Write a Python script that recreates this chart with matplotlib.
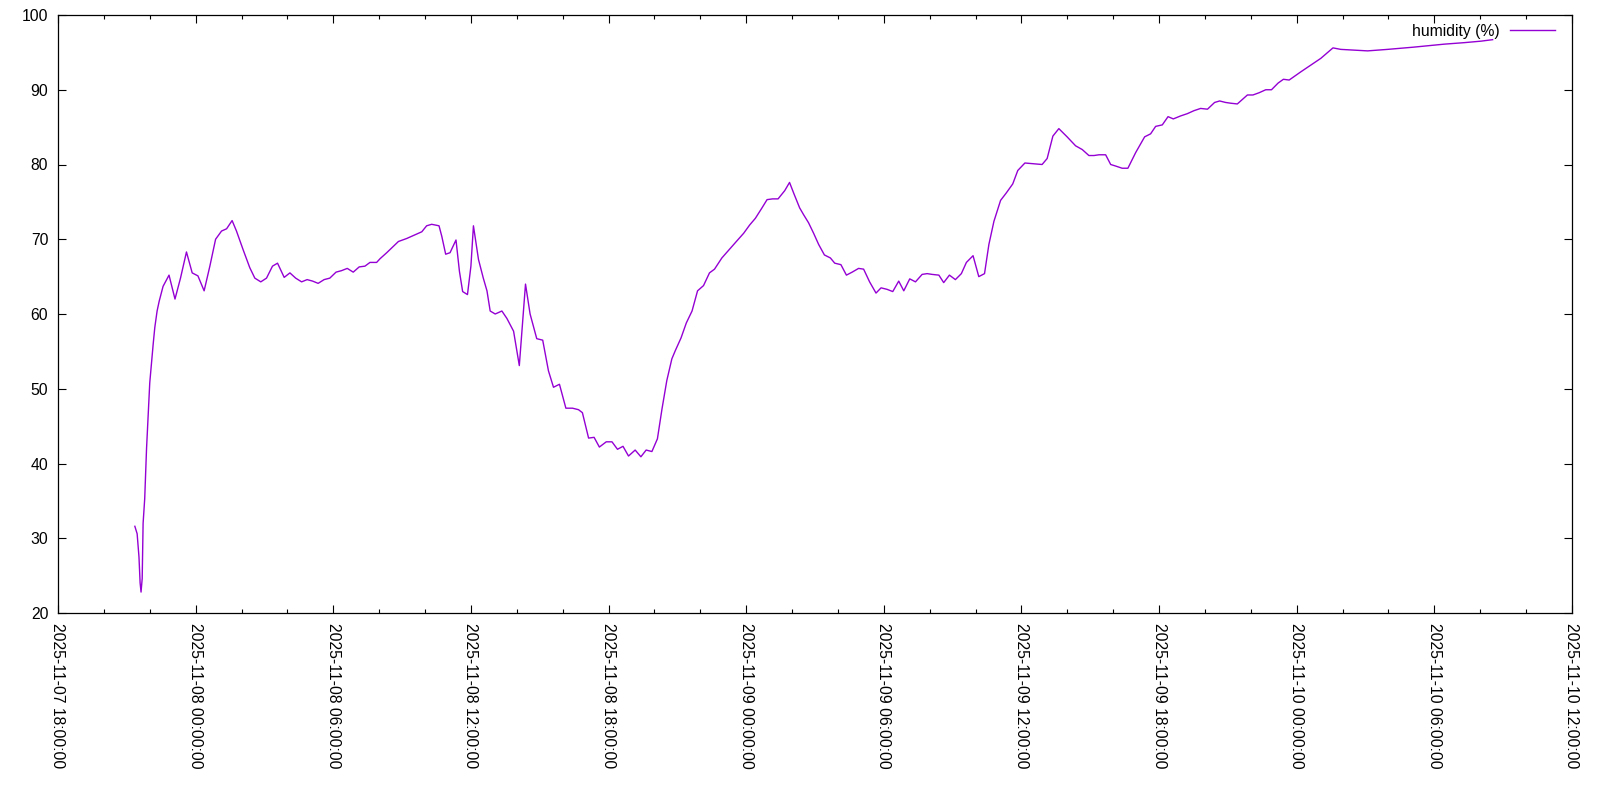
import matplotlib
matplotlib.use("Agg")
import matplotlib.pyplot as plt
import matplotlib.dates as mdates
import numpy as np

# hours after 2025-11-07 18:00 and humidity readings
start = np.datetime64("2025-11-07T18:00")
end = np.datetime64("2025-11-10T12:00")

hours = [
    3.35, 3.45, 3.53, 3.58, 3.62, 3.67, 3.71, 3.78, 3.86, 3.93,
    4.00, 4.07, 4.15, 4.22, 4.32, 4.41, 4.58, 4.84, 5.10, 5.34,
    5.60, 5.85, 6.10, 6.37, 6.62, 6.87, 7.13, 7.35, 7.59, 7.78,
    8.07, 8.36, 8.58, 8.84, 9.09, 9.35, 9.57, 9.86, 10.11, 10.36,
    10.62, 10.86, 11.10, 11.34, 11.60, 11.85, 12.12, 12.36, 12.61, 12.87,
    13.13, 13.38, 13.60, 13.89, 14.04, 14.33, 14.84, 15.20, 15.49, 15.86,
    16.07, 16.29, 16.61, 16.73, 16.90, 17.09, 17.35, 17.50, 17.64, 17.85,
    18.00, 18.11, 18.33, 18.54, 18.70, 18.84, 19.06, 19.35, 19.57, 19.86,
    20.11, 20.22, 20.38, 20.58, 20.87, 21.13, 21.38, 21.60, 21.86, 22.14,
    22.43, 22.69, 22.86, 23.13, 23.37, 23.60, 23.90, 24.15, 24.39, 24.63,
    24.87, 25.16, 25.41, 25.64, 25.89, 26.13, 26.33, 26.54, 26.76, 26.91,
    27.16, 27.39, 27.64, 27.88, 28.14, 28.40, 28.62, 28.94, 29.31, 29.60,
    29.89, 30.15, 30.40, 30.69, 30.91, 31.15, 31.39, 31.68, 31.89, 32.08,
    32.33, 32.50, 32.72, 32.94, 33.16, 33.41, 33.67, 33.86, 34.13, 34.37,
    34.62, 34.90, 35.12, 35.38, 35.66, 35.88, 36.14, 36.39, 36.65, 36.87,
    37.13, 37.38, 37.67, 37.89, 38.10, 38.40, 38.61, 38.86, 39.12, 39.38,
    39.60, 39.89, 40.14, 40.39, 40.58, 40.80, 41.09, 41.34, 41.62, 41.84,
    42.15, 42.54, 42.90, 43.12, 43.37, 43.63, 43.99, 44.36, 44.65, 44.94,
    45.16, 45.38, 45.67, 45.89, 46.10, 46.39, 46.64, 46.98, 47.37, 47.63,
    47.85, 48.14, 48.39, 48.62, 48.94, 49.23, 49.52, 49.81, 50.11, 50.42,
    50.64, 50.90, 51.12, 51.41, 51.85, 52.09, 52.36, 52.65, 52.90, 53.19,
    53.42, 53.67, 54.18, 55.05, 55.58, 55.92, 56.50, 57.09, 57.96, 59.10,
    60.43, 61.30, 62.03, 62.54,
]

humidity = [
    31.6, 30.6, 27.5, 24.0, 22.8, 24.6, 32.0, 35.3, 42.0, 46.4,
    50.8, 53.3, 56.0, 58.2, 60.4, 61.7, 63.7, 65.2, 62.0, 64.8,
    68.3, 65.5, 65.1, 63.1, 66.4, 70.0, 71.1, 71.4, 72.5, 71.1,
    68.6, 66.2, 64.8, 64.3, 64.8, 66.4, 66.8, 64.9, 65.5, 64.8,
    64.3, 64.6, 64.4, 64.1, 64.6, 64.8, 65.6, 65.8, 66.1, 65.6,
    66.3, 66.4, 66.9, 66.9, 67.4, 68.2, 69.7, 70.1, 70.5, 71.0,
    71.8, 72.0, 71.8, 70.4, 68.0, 68.2, 69.9, 65.7, 63.0, 62.6,
    66.4, 71.8, 67.3, 64.8, 63.1, 60.4, 60.0, 60.4, 59.4, 57.7,
    53.1, 57.5, 64.0, 60.0, 56.7, 56.5, 52.4, 50.2, 50.6, 47.4,
    47.4, 47.2, 46.8, 43.4, 43.5, 42.2, 42.9, 42.9, 41.9, 42.3,
    41.0, 41.8, 40.9, 41.8, 41.6, 43.3, 47.3, 51.1, 54.0, 55.1,
    56.8, 58.8, 60.4, 63.1, 63.8, 65.5, 66.0, 67.5, 68.8, 69.8,
    70.8, 71.9, 72.8, 74.2, 75.3, 75.4, 75.4, 76.5, 77.6, 76.1,
    74.2, 73.3, 72.2, 70.8, 69.3, 67.9, 67.5, 66.8, 66.6, 65.2,
    65.6, 66.1, 66.0, 64.3, 62.8, 63.5, 63.3, 63.0, 64.4, 63.1,
    64.7, 64.3, 65.3, 65.4, 65.3, 65.2, 64.2, 65.2, 64.6, 65.4,
    66.9, 67.8, 65.0, 65.4, 69.3, 72.4, 75.2, 76.2, 77.4, 79.2,
    80.2, 80.1, 80.0, 80.8, 83.8, 84.8, 83.7, 82.5, 82.0, 81.2,
    81.2, 81.3, 81.3, 80.0, 79.8, 79.5, 79.5, 81.6, 83.7, 84.1,
    85.1, 85.3, 86.4, 86.1, 86.5, 86.8, 87.2, 87.5, 87.4, 88.3,
    88.5, 88.3, 88.2, 88.1, 89.3, 89.3, 89.6, 90.0, 90.0, 90.9,
    91.4, 91.3, 92.4, 94.2, 95.6, 95.4, 95.3, 95.2, 95.4, 95.7,
    96.1, 96.3, 96.5, 96.7,
]

y_ticks = [20, 30, 40, 50, 60, 70, 80, 90, 100]

plt.rcParams["font.family"] = ["Liberation Sans", "DejaVu Sans"]
plt.rcParams["font.size"] = 11.3

times = start + (np.array(hours) * 3600).astype("timedelta64[s]")

fig = plt.figure(figsize=(16, 8), dpi=100)
ax = fig.add_axes([58 / 1600, 1 - 613 / 800, 1514 / 1600, 598 / 800])

ax.plot(times, humidity, color="#9400d3", linewidth=1.0, label="humidity (%)")

ax.set_xlim(start, end)
ax.set_ylim(20, 100)
ax.set_yticks(y_ticks)

ax.xaxis.set_major_locator(mdates.HourLocator(byhour=[0, 6, 12, 18]))
ax.xaxis.set_minor_locator(mdates.HourLocator(interval=2))
ax.xaxis.set_major_formatter(mdates.DateFormatter("%Y-%m-%d %H:%M:%S"))

ax.tick_params(which="both", direction="in", top=True, right=True,
               width=0.8, colors="black")
ax.tick_params(which="major", length=6, pad=7)
ax.tick_params(which="minor", length=3)
ax.tick_params(axis="x", labelrotation=-90)
for lbl in ax.get_xticklabels():
    lbl.set_horizontalalignment("center")
    lbl.set_verticalalignment("top")

for sp in ax.spines.values():
    sp.set_linewidth(0.9)

ax.legend(loc="upper right", bbox_to_anchor=(0.9888, 0.985), frameon=False,
          markerfirst=False, handlelength=2.9, handletextpad=0.65,
          borderpad=0, borderaxespad=0, fontsize=11.3)

fig.savefig("out.png", dpi=100)
